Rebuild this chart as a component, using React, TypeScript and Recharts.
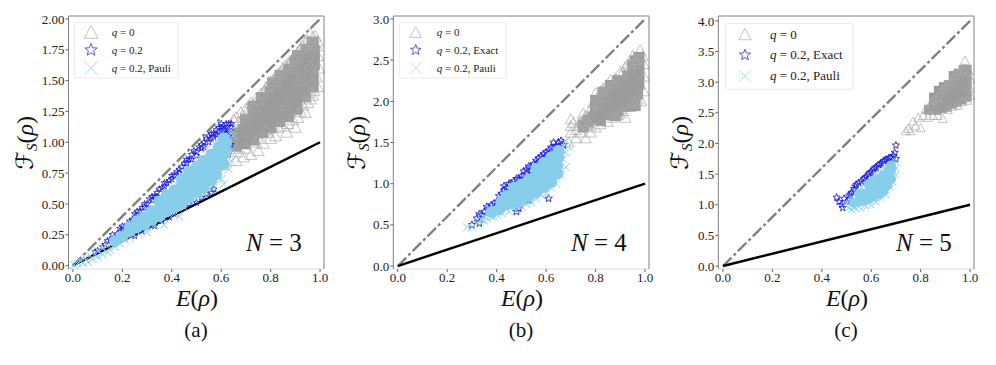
import { ScatterChart, Scatter, XAxis, YAxis, ReferenceLine } from 'recharts';

type Pair = [number, number];

// values, panel (a) N=3
const aGrayCore: Pair[] = [[.66,.98],[.665,1.06],[.695,1.0],[.69,1.09],[.7,1.17],[.73,1.03],[.725,1.12],[.735,1.21],[.73,1.28],[.765,1.09],[.76,1.17],[.77,1.26],[.765,1.35],[.8,1.13],[.795,1.22],[.805,1.31],[.8,1.4],[.81,1.47],[.835,1.18],[.83,1.27],[.84,1.36],[.835,1.45],[.84,1.53],[.87,1.22],[.875,1.31],[.865,1.4],[.87,1.49],[.875,1.58],[.905,1.28],[.9,1.37],[.91,1.46],[.905,1.55],[.9,1.64],[.91,1.69],[.94,1.38],[.945,1.47],[.935,1.56],[.94,1.65],[.945,1.74],[.97,1.46],[.97,1.55],[.975,1.64],[.975,1.73],[.97,1.8]];
const aGrayEdge: Pair[] = [[.64,1.14],[.65,1.18],[.66,1.2],[.68,1.24],[.7,1.27],[.72,1.32],[.74,1.35],[.76,1.39],[.78,1.44],[.8,1.49],[.82,1.53],[.84,1.57],[.86,1.62],[.88,1.66],[.9,1.7],[.92,1.76],[.94,1.82],[.96,1.88],[.97,1.85],[.985,1.78],[.99,1.7],[.995,1.6],[.985,1.53],[.99,1.45],[.975,1.42],[.96,1.35],[.955,1.4],[.94,1.24],[.93,1.3],[.9,1.12],[.91,1.2],[.865,1.08],[.87,1.15],[.82,1.05],[.8,1.03],[.83,1.12],[.77,.99],[.75,.93],[.74,1.0],[.72,.9],[.69,.88],[.7,.95],[.66,.85],[.67,.92],[.65,.95],[.645,1.03],[.78,1.1],[.86,1.3],[.92,1.5],[.96,1.62],[.99,1.82],[.98,1.86],[.95,1.82],[.89,1.6],[.67,1.16],[.69,1.21],[.71,1.25],[.73,1.3],[.75,1.34],[.77,1.4],[.79,1.46],[.81,1.5],[.83,1.55],[.85,1.6],[.87,1.63],[.89,1.68],[.91,1.73],[.93,1.78],[.95,1.78],[.97,1.8],[.75,1.03],[.79,1.08],[.85,1.13],[.89,1.18],[.92,1.25],[.95,1.32],[.97,1.38]];
const aStars: Pair[] = [[.09,.11],[.12,.15],[.14,.2],[.16,.25],[.17,.23],[.19,.3],[.2,.29],[.22,.33],[.24,.37],[.25,.42],[.27,.44],[.28,.47],[.3,.5],[.31,.54],[.33,.56],[.35,.62],[.36,.63],[.38,.67],[.39,.69],[.41,.73],[.42,.76],[.44,.8],[.45,.83],[.47,.86],[.48,.9],[.49,.93],[.5,.92],[.51,.96],[.52,.98],[.53,1.0],[.54,1.03],[.55,1.05],[.56,1.07],[.57,1.07],[.58,1.1],[.59,1.12],[.6,1.12],[.61,1.13],[.62,1.15],[.63,1.15],[.64,1.12],[.63,1.05],[.64,.98],[.63,.9],[.25,.24],[.28,.28],[.33,.32],[.36,.36],[.39,.39],[.41,.42],[.47,.5],[.5,.51],[.52,.55],[.54,.58],[.56,.59],[.57,.62],[.1,.12],[.13,.17],[.15,.21],[.18,.26],[.2,.32],[.21,.31],[.23,.36],[.23,.33],[.26,.41],[.26,.44],[.29,.47],[.29,.5],[.32,.53],[.32,.56],[.34,.59],[.34,.56],[.37,.64],[.37,.67],[.4,.7],[.4,.73],[.43,.78],[.43,.75],[.46,.83],[.46,.86],[.48,.86],[.5,.89],[.52,.95],[.53,.96],[.55,1.0],[.56,1.03],[.57,1.04],[.58,1.06],[.59,1.08],[.6,1.09],[.61,1.1],[.62,1.11],[.63,1.1],[.64,1.15],[.62,1.07],[.6,1.15]];
const aCrossCore: Pair[] = [[.17,.2],[.2,.235],[.23,.28],[.23,.31],[.26,.31],[.26,.36],[.29,.33],[.29,.39],[.32,.37],[.32,.44],[.35,.4],[.35,.46],[.35,.52],[.38,.44],[.38,.5],[.38,.57],[.41,.47],[.41,.54],[.41,.61],[.44,.5],[.44,.57],[.44,.64],[.44,.7],[.47,.55],[.47,.62],[.47,.69],[.47,.76],[.5,.59],[.5,.66],[.5,.73],[.5,.8],[.53,.63],[.53,.7],[.53,.77],[.53,.85],[.56,.69],[.56,.76],[.56,.83],[.56,.9],[.58,.74],[.59,.81],[.59,.88],[.59,.96],[.61,.82],[.61,.9],[.61,.98],[.61,1.03],[.62,.92],[.62,1.0]];
const aCrossEdge: Pair[] = [[.005,.005],[.02,.015],[.03,.04],[.04,.02],[.05,.06],[.06,.03],[.07,.08],[.08,.05],[.09,.09],[.1,.07],[.1,.12],[.12,.09],[.12,.14],[.14,.11],[.14,.17],[.15,.13],[.16,.19],[.17,.15],[.19,.18],[.18,.24],[.21,.21],[.21,.3],[.23,.22],[.24,.26],[.26,.27],[.27,.42],[.3,.3],[.3,.46],[.33,.33],[.34,.5],[.37,.38],[.38,.59],[.41,.42],[.42,.66],[.45,.47],[.46,.75],[.49,.54],[.5,.86],[.53,.58],[.54,.94],[.57,.63],[.58,1.01],[.6,.7],[.61,.66],[.6,1.07],[.63,.78],[.64,.85],[.645,.95],[.65,1.05],[.64,1.1],[.43,.4],[.37,.33],[.3,.27]];

// panel (b) N=4
const bGrayCore: Pair[] = [[.79,1.8],[.8,1.9],[.8,2.0],[.82,1.78],[.83,1.9],[.83,2.02],[.83,2.1],[.86,1.85],[.87,1.97],[.86,2.1],[.86,2.18],[.88,1.84],[.89,1.9],[.9,2.02],[.89,2.14],[.89,2.24],[.92,1.95],[.93,2.07],[.92,2.19],[.93,2.3],[.95,2.02],[.96,2.14],[.95,2.26],[.95,2.42],[.96,2.38],[.96,2.48],[.96,1.96],[.97,2.1],[.975,2.22],[.975,2.34],[.975,2.46],[.975,2.52],[.77,1.76],[.75,1.7]];
const bGrayEdge: Pair[] = [[.69,1.5],[.7,1.78],[.7,1.62],[.72,1.55],[.73,1.7],[.74,1.62],[.75,1.85],[.76,1.55],[.77,1.72],[.78,1.62],[.79,1.98],[.8,2.1],[.8,1.68],[.82,2.12],[.82,1.72],[.84,2.18],[.85,1.75],[.86,2.26],[.87,1.8],[.88,2.28],[.89,1.83],[.9,1.85],[.9,2.36],[.92,2.42],[.92,1.8],[.94,2.45],[.94,1.93],[.95,2.55],[.96,1.98],[.97,2.5],[.98,2.62],[.985,2.0],[.99,2.55],[.995,2.45],[.995,2.3],[.995,2.12],[.75,1.75],[.72,1.65],[.81,1.95],[.84,2.05],[.7,1.7],[.71,1.74],[.76,1.82],[.78,1.9],[.83,2.15],[.87,2.22],[.91,2.35],[.93,2.45],[.96,2.5],[.91,1.88],[.97,2.02],[.74,1.76],[.78,1.7]];
const bStars: Pair[] = [[.3,.5],[.32,.58],[.33,.52],[.33,.63],[.34,.62],[.35,.66],[.36,.72],[.37,.7],[.39,.76],[.4,.78],[.41,.85],[.43,.92],[.43,.97],[.45,1.0],[.44,.95],[.47,1.03],[.48,1.06],[.5,1.09],[.51,1.15],[.52,1.17],[.53,1.21],[.54,1.2],[.55,1.24],[.56,1.28],[.57,1.31],[.58,1.33],[.59,1.36],[.6,1.38],[.61,1.4],[.62,1.44],[.63,1.5],[.64,1.46],[.65,1.5],[.66,1.52],[.67,1.47],[.49,.7],[.53,.8],[.61,.82],[.48,.66],[.38,.74],[.42,.88],[.46,1.0],[.49,1.06],[.5,1.05],[.52,1.12],[.54,1.16],[.55,1.18],[.57,1.26],[.58,1.28],[.6,1.33],[.61,1.35],[.62,1.38],[.64,1.4],[.65,1.45],[.63,1.43]];
const bCrossCore: Pair[] = [[.38,.66],[.41,.69],[.42,.78],[.44,.75],[.44,.85],[.47,.76],[.47,.86],[.47,.95],[.5,.8],[.5,.9],[.5,.99],[.53,.85],[.53,.95],[.53,1.05],[.56,.9],[.56,1.0],[.56,1.1],[.56,1.18],[.59,.96],[.59,1.06],[.59,1.16],[.59,1.25],[.62,1.02],[.62,1.12],[.62,1.22],[.62,1.32],[.645,1.12],[.645,1.22],[.65,1.32],[.65,1.4]];
const bCrossEdge: Pair[] = [[.28,.47],[.3,.47],[.32,.52],[.33,.55],[.34,.56],[.35,.55],[.35,.6],[.36,.62],[.36,.58],[.38,.6],[.38,.66],[.39,.6],[.4,.62],[.4,.75],[.42,.7],[.42,.64],[.43,.85],[.45,.66],[.46,.9],[.48,.68],[.5,.72],[.52,.75],[.54,.78],[.5,1.02],[.53,1.1],[.56,.82],[.58,.86],[.56,1.2],[.6,.88],[.62,.95],[.6,1.28],[.64,1.0],[.66,1.1],[.68,1.2],[.67,1.3],[.68,1.38],[.69,1.45],[.68,1.52],[.66,1.42],[.63,1.38]];

// panel (c) N=5
const cGrayCore: Pair[] = [[.83,2.55],[.85,2.55],[.85,2.66],[.85,2.75],[.87,2.55],[.87,2.67],[.87,2.78],[.87,2.86],[.89,2.58],[.89,2.7],[.89,2.82],[.89,2.92],[.91,2.6],[.91,2.72],[.91,2.84],[.91,2.95],[.93,2.65],[.93,2.77],[.93,2.89],[.93,3.0],[.93,3.1],[.95,2.68],[.95,2.8],[.95,2.92],[.95,3.04],[.95,3.14],[.97,2.72],[.97,2.84],[.97,2.96],[.97,3.08],[.97,3.2],[.99,2.76],[.99,2.88],[.99,3.0],[.99,3.12],[.99,3.2]];
const cGrayEdge: Pair[] = [[.74,2.2],[.75,2.24],[.76,2.2],[.77,2.36],[.78,2.28],[.79,2.42],[.8,2.25],[.81,2.45],[.82,2.55],[.83,2.42],[.84,2.65],[.85,2.45],[.86,2.72],[.87,2.45],[.88,2.82],[.89,2.4],[.9,2.92],[.91,2.55],[.92,3.0],[.93,2.6],[.94,3.1],[.95,2.62],[.96,3.18],[.97,2.68],[.98,3.35],[.98,3.22],[.99,2.7],[.995,3.18],[1,3.05],[1,2.9],[1,2.78],[.83,2.55],[.85,2.7],[.87,2.75],[.89,2.88],[.91,2.96],[.93,3.05],[.95,3.14],[.97,3.22]];
const cStars: Pair[] = [[.46,1.12],[.47,1.05],[.48,1.0],[.485,.95],[.49,1.1],[.5,1.05],[.51,1.14],[.52,1.2],[.53,1.26],[.54,1.33],[.55,1.36],[.56,1.38],[.57,1.42],[.58,1.46],[.59,1.5],[.6,1.54],[.61,1.58],[.62,1.61],[.63,1.65],[.64,1.68],[.65,1.71],[.66,1.74],[.67,1.76],[.68,1.77],[.69,1.8],[.7,1.97],[.695,1.85],[.7,1.75],[.515,1.17],[.535,1.3],[.575,1.44],[.595,1.52],[.615,1.6],[.635,1.66],[.655,1.72],[.675,1.76]];
const cCrossCore: Pair[] = [[.53,1.03],[.55,1.05],[.55,1.17],[.57,1.06],[.57,1.18],[.59,1.09],[.59,1.21],[.59,1.33],[.61,1.13],[.61,1.25],[.61,1.37],[.63,1.17],[.63,1.29],[.63,1.42],[.65,1.23],[.65,1.35],[.65,1.48],[.665,1.32],[.665,1.44],[.67,1.56],[.68,1.42],[.68,1.55],[.68,1.64]];
const cCrossEdge: Pair[] = [[.5,.98],[.51,.95],[.52,.92],[.53,.95],[.54,.93],[.56,.93],[.58,.96],[.6,.99],[.62,1.04],[.64,1.1],[.66,1.16],[.68,1.28],[.69,1.36],[.7,1.48],[.7,1.6],[.7,1.7],[.69,1.74],[.5,1.03],[.52,1.12],[.54,1.2],[.56,1.28],[.58,1.38],[.6,1.44],[.62,1.5],[.64,1.56],[.66,1.64]];

const aTicksX = [0, 0.2, 0.4, 0.6, 0.8, 1];
const aTicksY = [0, 0.25, 0.5, 0.75, 1, 1.25, 1.5, 1.75, 2];
const bTicksY = [0, 0.5, 1, 1.5, 2, 2.5, 3];
const cTicksY = [0, 0.5, 1, 1.5, 2, 2.5, 3, 3.5, 4];

const toPts = (list: Pair[]) => list.map(([x, y]) => ({ x, y }));

const GRAY = '#a9a9a9';
const GRAY_DENSE = '#9c9c9c';
const BLUE = '#2020e0';
const SKY = '#87ceeb';
const SERIF = '"Liberation Serif", serif';

const trianglePath = (cx: number, cy: number, s: number) =>
  `M${cx} ${cy - s}L${cx + s} ${cy + s * 0.8}L${cx - s} ${cy + s * 0.8}Z`;

const starPath = (cx: number, cy: number, r: number) => {
  let d = '';
  for (let i = 0; i < 10; i++) {
    const rad = i % 2 === 0 ? r : r * 0.42;
    const a = (Math.PI / 5) * i - Math.PI / 2;
    d += `${i === 0 ? 'M' : 'L'}${cx + rad * Math.cos(a)} ${cy + rad * Math.sin(a)}`;
  }
  return d + 'Z';
};

const crossPath = (cx: number, cy: number, s: number) =>
  `M${cx - s} ${cy - s}L${cx + s} ${cy + s}M${cx - s} ${cy + s}L${cx + s} ${cy - s}`;

interface PanelProps {
  left: number;
  width: number;
  plotLeft: number;
  plotRight: number;
  xDomain: [number, number];
  yDomain: [number, number];
  yTicks: number[];
  yDigits: number;
  diagonal: number;
  grayCore: Pair[];
  grayEdge: Pair[];
  stars: Pair[];
  crossCore: Pair[];
  crossEdge: Pair[];
  triSize: number;
  starSize: number;
  crossSize: number;
  coreRadius: number;
  blockW: number;
  blockH: number;
}

const PLOT_TOP = 16;
const PLOT_BOTTOM = 269;

function Panel(p: PanelProps) {
  const tick = { fontFamily: SERIF, fontSize: 13, fill: '#222' };
  return (
    <div style={{ position: 'absolute', left: p.left, top: 0 }}>
      <ScatterChart
        width={p.width}
        height={365}
        margin={{
          top: PLOT_TOP,
          left: p.plotLeft - p.left - 40,
          right: p.left + p.width - p.plotRight,
          bottom: 365 - PLOT_BOTTOM - 30,
        }}
      >
        <XAxis
          type="number"
          dataKey="x"
          domain={p.xDomain}
          ticks={aTicksX}
          tickFormatter={(v: number) => v.toFixed(1)}
          tick={tick}
          tickSize={3}
          tickMargin={1}
          height={30}
          stroke="#dddddd"
          tickLine={{ stroke: '#666' }}
          interval={0}
        />
        <YAxis
          type="number"
          dataKey="y"
          domain={p.yDomain}
          ticks={p.yTicks}
          tickFormatter={(v: number) => v.toFixed(p.yDigits)}
          tick={tick}
          tickSize={3}
          tickMargin={1}
          width={40}
          stroke="#808080"
          tickLine={{ stroke: '#666' }}
          interval={0}
        />
        {/* the dense middle of each cloud is a solid block, the outline markers sit round it */}
        <Scatter
          data={toPts(p.grayCore)}
          isAnimationActive={false}
          shape={(s: any) => (
            <rect x={s.cx - p.blockW} y={s.cy - p.blockH} width={p.blockW * 2} height={p.blockH * 2} fill={GRAY_DENSE} />
          )}
        />
        <Scatter
          data={toPts(p.grayEdge)}
          isAnimationActive={false}
          shape={(s: any) => (
            <path d={trianglePath(s.cx, s.cy, p.triSize)} fill="none" stroke={GRAY} strokeWidth={0.7} />
          )}
        />
        <Scatter
          data={toPts(p.stars)}
          isAnimationActive={false}
          shape={(s: any) => (
            <path d={starPath(s.cx, s.cy, p.starSize)} fill="none" stroke={BLUE} strokeWidth={0.9} />
          )}
        />
        <Scatter
          data={toPts(p.crossCore)}
          isAnimationActive={false}
          shape={(s: any) => <circle cx={s.cx} cy={s.cy} r={p.coreRadius} fill={SKY} />}
        />
        <Scatter
          data={toPts(p.crossEdge)}
          isAnimationActive={false}
          shape={(s: any) => (
            <path d={crossPath(s.cx, s.cy, p.crossSize)} fill="none" stroke={SKY} strokeWidth={1} />
          )}
        />
        <ReferenceLine
          segment={[{ x: 0, y: 0 }, { x: 1, y: p.diagonal }]}
          stroke="#808080"
          strokeWidth={2.4}
          strokeDasharray="12 3 3 3"
        />
        <ReferenceLine
          segment={[{ x: 0, y: 0 }, { x: 1, y: 1 }]}
          stroke="#000"
          strokeWidth={2.4}
        />
      </ScatterChart>
    </div>
  );
}

function Eq({ value }: { value: string }) {
  return (
    <>
      <tspan fontStyle="italic">q</tspan>
      <tspan> = {value}</tspan>
    </>
  );
}

interface LegendProps {
  x: number;
  y: number;
  w: number;
  h: number;
  markX: number;
  textX: number;
  rows: number[];
  fontSize: number;
  labels: string[];
  scale: number;
}

function PanelLegend(l: LegendProps) {
  return (
    <g fontFamily={SERIF} fontSize={l.fontSize} fill="#222">
      <rect x={l.x} y={l.y} width={l.w} height={l.h} rx={2} fill="#fff" fillOpacity={0.85} stroke="#e4e4e4" strokeWidth={0.8} />
      <path d={trianglePath(l.markX, l.rows[0], 7 * l.scale)} fill="none" stroke="#c4c4c4" strokeWidth={1} />
      <path d={starPath(l.markX, l.rows[1], 6.5 * l.scale)} fill="none" stroke="#4a4ae0" strokeWidth={0.9} />
      <path d={crossPath(l.markX, l.rows[2], 7 * l.scale)} fill="none" stroke="#b5e3f5" strokeWidth={1} />
      {l.labels.map((label, i) => (
        <text key={i} x={l.textX} y={l.rows[i] + l.fontSize * 0.32}>
          <Eq value={label} />
        </text>
      ))}
    </g>
  );
}

function PanelText({ centerX, yLabelX, n, nX, caption }: { centerX: number; yLabelX: number; n: number; nX: number; caption: string }) {
  return (
    <g fontFamily={SERIF} fill="#111">
      <text x={centerX} y={306} fontSize={24} textAnchor="middle">
        <tspan fontStyle="italic">E</tspan>(<tspan fontStyle="italic">ρ</tspan>)
      </text>
      <text x={centerX - 1} y={337} fontSize={21} textAnchor="middle">{caption}</text>
      <text transform={`translate(${yLabelX},143) rotate(-90)`} fontSize={24} textAnchor="middle">
        <tspan fontFamily='"DejaVu Sans", serif'>ℱ</tspan>
        <tspan fontSize={15} dy={4} fontStyle="italic">S</tspan>
        <tspan dy={-4}>(</tspan>
        <tspan fontStyle="italic">ρ</tspan>)
      </text>
      <text x={nX} y={251} fontSize={25}>
        <tspan fontStyle="italic">N</tspan> = {n}
      </text>
    </g>
  );
}

const frames = [
  { left: 68.5, right: 324 },
  { left: 393.3, right: 649 },
  { left: 718.3, right: 974 },
];

export default function App() {
  return (
    <div style={{ position: 'absolute', left: 0, top: 0, width: 996, height: 365, background: '#fff', overflow: 'hidden' }}>
      <Panel left={0} width={330} plotLeft={68.5} plotRight={324} xDomain={[-0.018, 1.016]} yDomain={[-0.028, 2.024]} yTicks={aTicksY} yDigits={2} diagonal={2}
        grayCore={aGrayCore} grayEdge={aGrayEdge} stars={aStars} crossCore={aCrossCore} crossEdge={aCrossEdge} triSize={6} starSize={3.4} crossSize={4} coreRadius={6} blockW={6} blockH={7} />
      <Panel left={330} width={330} plotLeft={393.3} plotRight={649} xDomain={[-0.018, 1.016]} yDomain={[-0.036, 3.036]} yTicks={bTicksY} yDigits={1} diagonal={3}
        grayCore={bGrayCore} grayEdge={bGrayEdge} stars={bStars} crossCore={bCrossCore} crossEdge={bCrossEdge} triSize={5.5} starSize={4} crossSize={4} coreRadius={6} blockW={5.5} blockH={6.5} />
      <Panel left={660} width={336} plotLeft={718.3} plotRight={974} xDomain={[-0.019, 1.016]} yDomain={[-0.049, 4.08]} yTicks={cTicksY} yDigits={1} diagonal={4}
        grayCore={cGrayCore} grayEdge={cGrayEdge} stars={cStars} crossCore={cCrossCore} crossEdge={cCrossEdge} triSize={4.5} starSize={3.8} crossSize={3} coreRadius={5} blockW={4} blockH={5} />
      <svg width={996} height={365} style={{ position: 'absolute', left: 0, top: 0, pointerEvents: 'none' }}>
        {frames.map((f, i) => (
          <path key={i} d={`M${f.left} ${PLOT_TOP}H${f.right}V${PLOT_BOTTOM}`} fill="none" stroke="#808080" strokeWidth={1} />
        ))}
        <PanelLegend x={74.3} y={22.7} w={103.7} h={55.3} markX={91} textX={111.7} rows={[32.7, 50, 68]} fontSize={11} scale={1} labels={['0', '0.2', '0.2, Pauli']} />
        <PanelLegend x={399.3} y={22.7} w={106.7} h={55.3} markX={415.7} textX={436.7} rows={[32.7, 50, 68]} fontSize={11} scale={0.85} labels={['0', '0.2, Exact', '0.2, Pauli']} />
        <PanelLegend x={725.7} y={23.3} w={127.6} h={66} markX={745} textX={770} rows={[34.7, 55, 76]} fontSize={13} scale={0.9} labels={['0', '0.2, Exact', '0.2, Pauli']} />
        <PanelText centerX={197} yLabelX={33} n={3} nX={246} caption="(a)" />
        <PanelText centerX={522} yLabelX={365} n={4} nX={571} caption="(b)" />
        <PanelText centerX={847} yLabelX={688} n={5} nX={896} caption="(c)" />
      </svg>
    </div>
  );
}
